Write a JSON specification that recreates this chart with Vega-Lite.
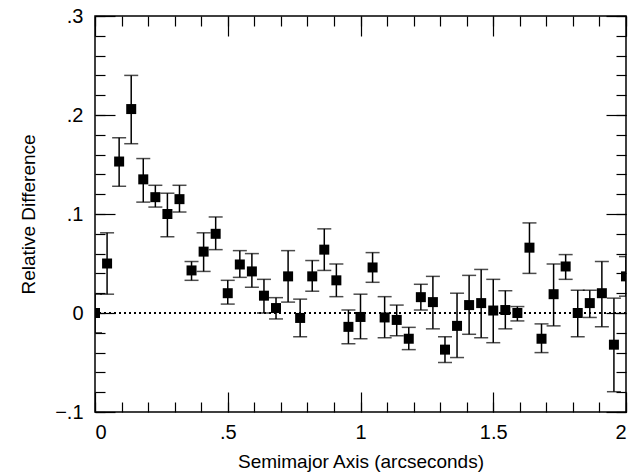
{
  "$schema": "https://vega.github.io/schema/vega-lite/v6.json",
  "width": 531,
  "height": 396,
  "padding": {"left": 95, "top": 16, "right": 10, "bottom": 62},
  "autosize": {"type": "none"},
  "background": "white",
  "config": {
    "view": {"stroke": "black", "strokeWidth": 1.5},
    "font": "Liberation Sans",
    "axis": {"grid": false, "domain": false, "tickColor": "black", "tickWidth": 1.2, "labelColor": "black", "titleColor": "black", "labelFont": "Liberation Sans", "titleFont": "Liberation Sans", "labelFontSize": 20, "titleFontSize": 19, "titleFontWeight": "normal"}
  },
  "data": {
    "values": [
      {"a": 0.0, "d": 0.0, "lo": -0.02, "hi": 0.019},
      {"a": 0.0455, "d": 0.050, "lo": 0.019, "hi": 0.081},
      {"a": 0.0909, "d": 0.153, "lo": 0.128, "hi": 0.177},
      {"a": 0.1364, "d": 0.206, "lo": 0.171, "hi": 0.240},
      {"a": 0.1818, "d": 0.135, "lo": 0.112, "hi": 0.156},
      {"a": 0.2273, "d": 0.117, "lo": 0.107, "hi": 0.129},
      {"a": 0.2727, "d": 0.100, "lo": 0.077, "hi": 0.121},
      {"a": 0.3182, "d": 0.115, "lo": 0.102, "hi": 0.129},
      {"a": 0.3636, "d": 0.043, "lo": 0.033, "hi": 0.052},
      {"a": 0.4091, "d": 0.062, "lo": 0.042, "hi": 0.081},
      {"a": 0.4545, "d": 0.080, "lo": 0.064, "hi": 0.097},
      {"a": 0.5, "d": 0.020, "lo": 0.009, "hi": 0.033},
      {"a": 0.5455, "d": 0.049, "lo": 0.036, "hi": 0.063},
      {"a": 0.5909, "d": 0.042, "lo": 0.026, "hi": 0.060},
      {"a": 0.6364, "d": 0.0175, "lo": 0.0, "hi": 0.034},
      {"a": 0.6818, "d": 0.005, "lo": -0.006, "hi": 0.0155},
      {"a": 0.7273, "d": 0.037, "lo": 0.011, "hi": 0.063},
      {"a": 0.7727, "d": -0.005, "lo": -0.024, "hi": 0.014},
      {"a": 0.8182, "d": 0.037, "lo": 0.022, "hi": 0.053},
      {"a": 0.8636, "d": 0.064, "lo": 0.043, "hi": 0.085},
      {"a": 0.9091, "d": 0.033, "lo": 0.0165, "hi": 0.0495},
      {"a": 0.9545, "d": -0.014, "lo": -0.031, "hi": 0.003},
      {"a": 1.0, "d": -0.004, "lo": -0.026, "hi": 0.019},
      {"a": 1.0455, "d": 0.046, "lo": 0.031, "hi": 0.061},
      {"a": 1.0909, "d": -0.0045, "lo": -0.025, "hi": 0.0165},
      {"a": 1.1364, "d": -0.007, "lo": -0.023, "hi": 0.008},
      {"a": 1.1818, "d": -0.026, "lo": -0.037, "hi": -0.0145},
      {"a": 1.2273, "d": 0.016, "lo": 0.003, "hi": 0.029},
      {"a": 1.2727, "d": 0.011, "lo": -0.016, "hi": 0.037},
      {"a": 1.3182, "d": -0.037, "lo": -0.050, "hi": -0.024},
      {"a": 1.3636, "d": -0.013, "lo": -0.045, "hi": 0.020},
      {"a": 1.4091, "d": 0.008, "lo": -0.0215, "hi": 0.038},
      {"a": 1.4545, "d": 0.010, "lo": -0.025, "hi": 0.044},
      {"a": 1.5, "d": 0.0025, "lo": -0.030, "hi": 0.034},
      {"a": 1.5455, "d": 0.003, "lo": -0.016, "hi": 0.0225},
      {"a": 1.5909, "d": 0.0, "lo": -0.008, "hi": 0.0065},
      {"a": 1.6364, "d": 0.066, "lo": 0.040, "hi": 0.091},
      {"a": 1.6818, "d": -0.026, "lo": -0.040, "hi": -0.011},
      {"a": 1.7273, "d": 0.019, "lo": -0.013, "hi": 0.0495},
      {"a": 1.7727, "d": 0.047, "lo": 0.034, "hi": 0.059},
      {"a": 1.8182, "d": 0.0, "lo": -0.024, "hi": 0.023},
      {"a": 1.8636, "d": 0.010, "lo": -0.0045, "hi": 0.023},
      {"a": 1.9091, "d": 0.020, "lo": -0.014, "hi": 0.052},
      {"a": 1.9545, "d": -0.032, "lo": -0.0795, "hi": 0.015},
      {"a": 2.0, "d": 0.037, "lo": 0.017, "hi": 0.057}
    ]
  },
  "resolve": {"axis": {"x": "independent", "y": "independent"}},
  "layer": [
    {
      "mark": {"type": "rule", "color": "black", "strokeWidth": 1.2, "strokeDash": [2, 3]},
      "encoding": {
        "y": {"datum": 0, "type": "quantitative", "scale": {"domain": [-0.1, 0.3], "nice": false, "zero": false}, "axis": null}
      }
    },
    {
      "mark": {"type": "rule", "color": "black", "strokeWidth": 1.5, "clip": true},
      "encoding": {
        "x": {"field": "a", "type": "quantitative", "scale": {"domain": [0, 2], "nice": false, "zero": false},
              "axis": {"orient": "bottom", "values": [0,0.1,0.2,0.3,0.4,0.5,0.6,0.7,0.8,0.9,1,1.1,1.2,1.3,1.4,1.5,1.6,1.7,1.8,1.9,2], "tickSize": -10, "labels": false, "title": null}},
        "y": {"field": "lo", "type": "quantitative", "scale": {"domain": [-0.1, 0.3], "nice": false, "zero": false},
              "axis": {"orient": "left", "values": [-0.1,-0.08,-0.06,-0.04,-0.02,0,0.02,0.04,0.06,0.08,0.1,0.12,0.14,0.16,0.18,0.2,0.22,0.24,0.26,0.28,0.3], "tickSize": -10, "labels": false, "title": null}},
        "y2": {"field": "hi"}
      }
    },
    {
      "mark": {"type": "tick", "color": "black", "orient": "horizontal", "size": 14, "thickness": 1.5, "clip": true},
      "encoding": {
        "x": {"field": "a", "type": "quantitative", "scale": {"domain": [0, 2], "nice": false, "zero": false},
              "axis": {"orient": "top", "values": [0,0.1,0.2,0.3,0.4,0.5,0.6,0.7,0.8,0.9,1,1.1,1.2,1.3,1.4,1.5,1.6,1.7,1.8,1.9,2], "tickSize": -10, "labels": false, "title": null}},
        "y": {"field": "lo", "type": "quantitative", "scale": {"domain": [-0.1, 0.3], "nice": false, "zero": false},
              "axis": {"orient": "right", "values": [-0.1,-0.08,-0.06,-0.04,-0.02,0,0.02,0.04,0.06,0.08,0.1,0.12,0.14,0.16,0.18,0.2,0.22,0.24,0.26,0.28,0.3], "tickSize": -10, "labels": false, "title": null}}
      }
    },
    {
      "mark": {"type": "tick", "color": "black", "orient": "horizontal", "size": 14, "thickness": 1.5, "clip": true},
      "encoding": {
        "x": {"field": "a", "type": "quantitative", "scale": {"domain": [0, 2], "nice": false, "zero": false},
              "axis": {"orient": "top", "values": [0, 0.5, 1, 1.5, 2], "tickSize": -20, "labels": false, "title": null}},
        "y": {"field": "hi", "type": "quantitative", "scale": {"domain": [-0.1, 0.3], "nice": false, "zero": false},
              "axis": {"orient": "right", "values": [-0.1, 0, 0.1, 0.2, 0.3], "tickSize": -20, "labels": false, "title": null}}
      }
    },
    {
      "mark": {"type": "square", "color": "black", "filled": true, "opacity": 1, "size": 100, "clip": true},
      "encoding": {
        "x": {"field": "a", "type": "quantitative", "scale": {"domain": [0, 2], "nice": false, "zero": false},
              "axis": {"orient": "bottom", "values": [0, 0.5, 1, 1.5, 2], "tickSize": -20, "labelPadding": 30, "labelExpr": "datum.value == 0.5 ? '.5' : '' + datum.value", "title": "Semimajor Axis (arcseconds)", "titlePadding": 10}},
        "y": {"field": "d", "type": "quantitative", "scale": {"domain": [-0.1, 0.3], "nice": false, "zero": false},
              "axis": {"orient": "left", "values": [-0.1, 0, 0.1, 0.2, 0.3], "tickSize": -20, "labelPadding": 32, "labelExpr": "datum.value == 0 ? '0' : replace(format(datum.value, '.1f'), '0.', '.')", "title": "Relative Difference", "titlePadding": 16}}
      }
    }
  ]
}
